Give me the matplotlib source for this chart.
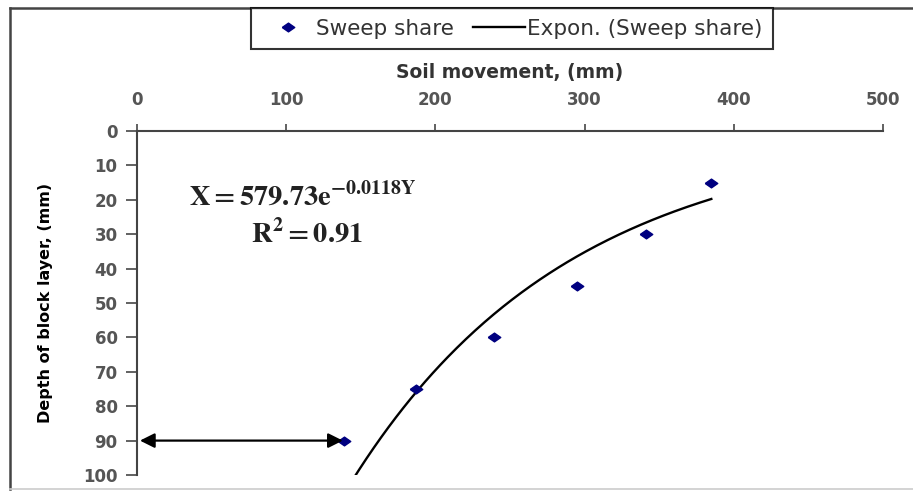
import numpy as np
import matplotlib.pyplot as plt
from matplotlib.lines import Line2D

# data
soil_movement = [139, 187, 239, 295, 341, 385]
depth = [90, 75, 60, 45, 30, 15]
x_ticks = [0, 100, 200, 300, 400, 500]
y_ticks = [0, 10, 20, 30, 40, 50, 60, 70, 80, 90, 100]
arrow_x = [2, 138]
arrow_y = 90

plt.rcParams['font.family'] = ['DejaVu Sans']

# flattened diamond like the Excel marker
diamond = [(-1, 0), (0, 0.7), (1, 0), (0, -0.7), (-1, 0)]

fig = plt.figure(figsize=(9.13, 4.91), dpi=100)
ax = fig.add_axes([0.150, 0.0326, 0.817, 0.7006])

# exponential trendline (Excel style: y = a*exp(b*x))
b, ln_a = np.polyfit(soil_movement, np.log(depth), 1)
xs = np.linspace(min(soil_movement), max(soil_movement), 200)
ys = np.exp(ln_a) * np.exp(b * xs)
ax.plot(xs, ys, color="black", lw=1.7, zorder=2)
ax.plot(soil_movement, depth, marker=diamond, color="#000080", ms=9, ls="none",
        zorder=3)

ax.annotate("", xy=(arrow_x[0], arrow_y), xytext=(arrow_x[1], arrow_y),
            arrowprops=dict(arrowstyle="<|-|>", color="black", lw=1.6,
                            mutation_scale=22, shrinkA=0, shrinkB=0))

ax.text(111, 19.2, r"$\mathbf{X = 579.73e^{-0.0118Y}}$", ha="center", va="center",
        fontsize=20.5, color="#222222", math_fontfamily="stix")
ax.text(114, 29.8, r"$\mathbf{R^{2} = 0.91}$", ha="center", va="center",
        fontsize=20.5, color="#222222", math_fontfamily="stix")

ax.set_xlim(0, 500)
ax.set_ylim(100, 0)
ax.xaxis.set_ticks_position("top")
ax.xaxis.set_label_position("top")
ax.set_xticks(x_ticks)
ax.set_yticks(y_ticks)
ax.tick_params(direction="out", width=1.3, colors="#555555", labelsize=12,
               labelcolor="#555555")
ax.tick_params(axis="x", length=5, pad=11)
ax.tick_params(axis="y", length=8, pad=6)
for lab in ax.get_xticklabels() + ax.get_yticklabels():
    lab.set_fontweight("bold")
ax.spines["right"].set_visible(False)
ax.spines["bottom"].set_visible(False)
for s in ("top", "left"):
    ax.spines[s].set_color("#444444")
    ax.spines[s].set_linewidth(1.5)
ax.set_xlabel("Soil movement, (mm)", fontsize=13.5, fontweight="bold",
              color="#333333", labelpad=9)
ax.set_ylabel("Depth of block layer, (mm)", fontsize=11.5, fontweight="bold",
              color="black")
ax.yaxis.set_label_coords(-0.112, 0.5)

# outer frame
fig.add_artist(Line2D([0.011, 0.011], [0.004, 0.984], color="#444444", lw=1.8))
fig.add_artist(Line2D([0.011, 1.0], [0.984, 0.984], color="#444444", lw=1.8))
fig.add_artist(Line2D([0.011, 1.0], [0.004, 0.004], color="#cccccc", lw=1.2))

handles = [Line2D([], [], marker=diamond, color="#000080", ls="none", ms=9),
           Line2D([], [], color="black", lw=1.7)]
leg = fig.legend(handles, ["Sweep share", "Expon. (Sweep share)"], ncol=2,
                 loc="upper left", bbox_to_anchor=(0.275, 0.984),
                 frameon=True, fancybox=False, edgecolor="black", fontsize=15.5,
                 handlelength=2.4, columnspacing=0.9, handletextpad=0.1,
                 borderpad=0.5, borderaxespad=0)
leg.get_frame().set_linewidth(1.5)
for t in leg.get_texts():
    t.set_color("#333333")

fig.savefig("out.png", dpi=100)
